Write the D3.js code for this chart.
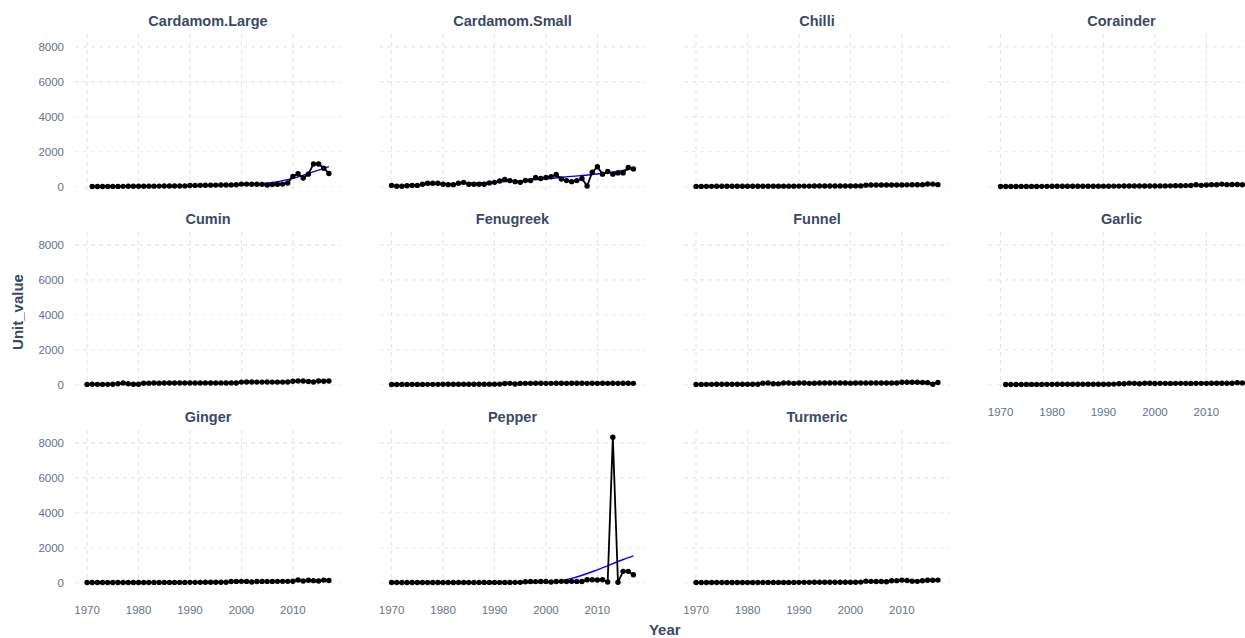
<!DOCTYPE html>
<html>
<head>
    <title>Unit value by spice</title>
    <script src="https://d3js.org/d3.v7.min.js"></script>
    <style>
        body { margin: 0; background: #fff; }
        svg { font-family: 'Liberation Sans', Arial, sans-serif; }
        .grid line { stroke: #e6e6e6; stroke-width: 1.1; stroke-dasharray: 4,4; }
        .tick-label { fill: #66728a; font-size: 11.5px; }
        .strip { fill: #3b4a64; font-size: 14.5px; font-weight: bold; }
        .axis-title { fill: #3b4a5e; font-size: 15px; font-weight: bold; }
    </style>
</head>
<body>
<script>
// years 1970..2017
var years = d3.range(1970, 2018);

var spices = ["Cardamom.Large", "Cardamom.Small", "Chilli", "Corainder", "Cumin", "Fenugreek",
              "Funnel", "Garlic", "Ginger", "Pepper", "Turmeric"];

var cardamomLarge = [null, 12, 14, 15, 16, 18, 20, 22, 24, 25,
    28, 30, 32, 34, 35, 38, 40, 42, 45, 48,
    70, 75, 80, 85, 90, 92, 95, 100, 105, 110,
    150, 150, 145, 140, 135, 95, 130, 140, 150, 210,
    590, 740, 500, 720, 1300, 1300, 1060, 760];
var cardamomSmall = [76, 30, 30, 60, 76, 76, 140, 200, 200, 200,
    140, 120, 120, 200, 250, 140, 140, 140, 140, 220,
    250, 330, 420, 350, 290, 250, 360, 360, 530, 470,
    530, 570, 700, 440, 350, 290, 350, 470, 40, 830,
    1140, 720, 870, 720, 790, 790, 1100, 1010];
var chilli = [20, 20, 22, 22, 24, 24, 25, 25, 26, 26,
    28, 28, 30, 30, 30, 32, 32, 32, 34, 34,
    35, 36, 36, 38, 38, 40, 40, 42, 42, 44,
    45, 46, 48, 90, 95, 95, 98, 100, 100, 102,
    105, 108, 110, 112, 110, 160, 150, 120];
var corainder = [15, 15, 16, 16, 18, 18, 20, 20, 22, 22,
    24, 24, 26, 26, 28, 28, 30, 30, 30, 32,
    34, 34, 36, 36, 38, 38, 40, 40, 42, 44,
    45, 46, 48, 50, 55, 60, 65, 70, 110, 80,
    100, 120, 110, 150, 120, 130, 125, 115];
var cumin = [20, 25, 22, 20, 22, 30, 60, 95, 60, 25,
    30, 85, 90, 95, 90, 95, 100, 95, 100, 95,
    100, 100, 100, 105, 100, 100, 105, 100, 105, 100,
    150, 160, 155, 150, 150, 155, 150, 150, 150, 155,
    200, 220, 210, 190, 160, 210, 200, 210];
var fenugreek = [15, 15, 18, 18, 20, 20, 20, 22, 22, 22,
    25, 25, 25, 28, 28, 28, 30, 30, 30, 32,
    32, 35, 70, 80, 40, 75, 80, 80, 82, 82,
    80, 80, 82, 82, 80, 85, 82, 85, 80, 82,
    80, 85, 80, 82, 80, 85, 82, 80];
var funnel = [20, 20, 22, 22, 24, 24, 25, 25, 25, 26,
    26, 28, 30, 90, 100, 60, 50, 95, 100, 80,
    95, 95, 80, 90, 95, 95, 100, 95, 100, 100,
    90, 95, 95, 100, 95, 100, 100, 95, 100, 100,
    140, 140, 140, 140, 130, 120, 30, 130];
var garlic = [null, 15, 15, 16, 16, 18, 18, 20, 20, 22,
    22, 24, 24, 25, 26, 26, 28, 28, 30, 30,
    30, 32, 35, 60, 55, 90, 80, 60, 85, 85,
    70, 80, 80, 75, 80, 80, 80, 75, 80, 80,
    80, 82, 85, 85, 85, 85, 120, 100];
var ginger = [10, 10, 12, 12, 12, 14, 14, 14, 15, 15,
    16, 16, 16, 18, 18, 18, 20, 20, 20, 20,
    22, 22, 22, 24, 24, 25, 25, 30, 70, 75,
    80, 75, 40, 70, 75, 75, 75, 80, 80, 80,
    85, 160, 100, 140, 120, 100, 150, 130];
var pepper = [10, 10, 10, 10, 12, 12, 12, 12, 14, 14,
    14, 15, 15, 15, 16, 16, 16, 18, 18, 18,
    18, 20, 20, 20, 22, 22, 60, 70, 65, 70,
    75, 40, 70, 80, 70, 80, 75, 70, 170, 170,
    160, 170, 40, 8320, 30, 650, 650, 460];
var turmeric = [10, 10, 12, 12, 12, 14, 14, 14, 15, 15,
    16, 16, 16, 18, 18, 18, 20, 20, 20, 20,
    22, 22, 22, 24, 24, 25, 25, 26, 26, 28,
    30, 30, 35, 90, 80, 70, 70, 60, 110, 120,
    150, 130, 90, 80, 110, 140, 140, 150];

var seriesValues = [cardamomLarge, cardamomSmall, chilli, corainder, cumin, fenugreek,
                    funnel, garlic, ginger, pepper, turmeric];

// blue smoother at these years
var smoothYears = [1970, 1980, 1990, 2000, 2005, 2010, 2015, 2017];
var smoothValues = [
    [10, 25, 55, 110, 200, 480, 950, 1150],
    [60, 150, 260, 450, 590, 730, 930, 1040],
    [20, 30, 40, 60, 85, 105, 130, 140],
    [15, 25, 35, 50, 65, 100, 130, 135],
    [20, 70, 100, 140, 160, 185, 205, 210],
    [15, 30, 60, 80, 82, 82, 82, 82],
    [20, 60, 95, 98, 100, 115, 110, 105],
    [15, 25, 55, 78, 80, 85, 95, 100],
    [5, 15, 30, 65, 80, 100, 130, 140],
    [-20, -30, -20, 20, 250, 740, 1330, 1540],
    [8, 18, 25, 40, 70, 105, 125, 140]
];

var xTicks = [1970, 1980, 1990, 2000, 2010];
var yTicks = [0, 2000, 4000, 6000, 8000];

var W = 1245, H = 638;
var ncol = 4;
var panelW = 266, panelH = 160;
var left0 = 75, top0 = 34, colStep = 304.5, rowStep = 198;

var svg = d3.select("body").append("svg")
    .attr("width", W)
    .attr("height", H);

// shared scales (with ggplot style 5% expansion)
var xmin = d3.min(years), xmax = d3.max(years);
var xpad = (xmax - xmin) * 0.05;
var x = d3.scaleLinear().domain([xmin - xpad, xmax + xpad]).range([0, panelW]);

var ymax = d3.max(seriesValues, function(s) { return d3.max(s); });
var ypad = ymax * 0.05;
var y = d3.scaleLinear().domain([-ypad, ymax + ypad]).range([panelH, 0]);

var line = d3.line()
    .defined(function(d) { return d.v != null; })
    .x(function(d) { return x(d.year); })
    .y(function(d) { return y(d.v); });

var smoothLine = d3.line()
    .x(function(d) { return x(d.year); })
    .y(function(d) { return y(d.v); })
    .curve(d3.curveMonotoneX);

spices.forEach(function(name, i) {
    var col = i % ncol, row = Math.floor(i / ncol);
    var g = svg.append("g")
        .attr("transform", "translate(" + (left0 + col * colStep) + "," + (top0 + row * rowStep) + ")");

    var grid = g.append("g").attr("class", "grid");
    grid.selectAll(".gx").data(xTicks).enter().append("line")
        .attr("x1", function(d) { return x(d); }).attr("x2", function(d) { return x(d); })
        .attr("y1", 0).attr("y2", panelH);
    grid.selectAll(".gy").data(yTicks).enter().append("line")
        .attr("x1", 0).attr("x2", panelW)
        .attr("y1", function(d) { return y(d); }).attr("y2", function(d) { return y(d); });

    g.append("text")
        .attr("class", "strip")
        .attr("x", panelW / 2)
        .attr("y", -13)
        .attr("dy", "0.35em")
        .attr("text-anchor", "middle")
        .text(name);

    // y labels only on first column
    if (col === 0) {
        g.selectAll(".ylab").data(yTicks).enter().append("text")
            .attr("class", "tick-label")
            .attr("x", -11)
            .attr("y", function(d) { return y(d); })
            .attr("dy", "0.35em")
            .attr("text-anchor", "end")
            .text(function(d) { return d; });
    }

    // x labels where there is no panel below
    if (i + ncol >= spices.length) {
        g.selectAll(".xlab").data(xTicks).enter().append("text")
            .attr("class", "tick-label")
            .attr("x", function(d) { return x(d); })
            .attr("y", panelH + 20)
            .attr("dy", "0.35em")
            .attr("text-anchor", "middle")
            .text(function(d) { return d; });
    }

    var pts = years.map(function(yr, k) { return { year: yr, v: seriesValues[i][k] }; });
    var valid = pts.filter(function(d) { return d.v != null; });
    var firstYear = valid[0].year;

    var sm = smoothYears.map(function(yr, k) {
        return { year: Math.max(yr, firstYear), v: smoothValues[i][k] };
    });
    g.append("path")
        .datum(sm)
        .attr("fill", "none")
        .attr("stroke", "#0000ff")
        .attr("stroke-width", 1.4)
        .attr("d", smoothLine);

    g.append("path")
        .datum(pts)
        .attr("fill", "none")
        .attr("stroke", "#000")
        .attr("stroke-width", 1.8)
        .attr("d", line);

    g.selectAll("circle").data(valid).enter().append("circle")
        .attr("cx", function(d) { return x(d.year); })
        .attr("cy", function(d) { return y(d.v); })
        .attr("r", 2.7)
        .attr("fill", "#000");
});

svg.append("text")
    .attr("class", "axis-title")
    .attr("transform", "translate(18," + (top0 + (2 * rowStep + panelH) / 2) + ") rotate(-90)")
    .attr("dy", "0.35em")
    .attr("text-anchor", "middle")
    .text("Unit_value");

svg.append("text")
    .attr("class", "axis-title")
    .attr("x", left0 + (3 * colStep + panelW) / 2)
    .attr("y", 630)
    .attr("dy", "0.35em")
    .attr("text-anchor", "middle")
    .text("Year");
</script>
</body>
</html>
